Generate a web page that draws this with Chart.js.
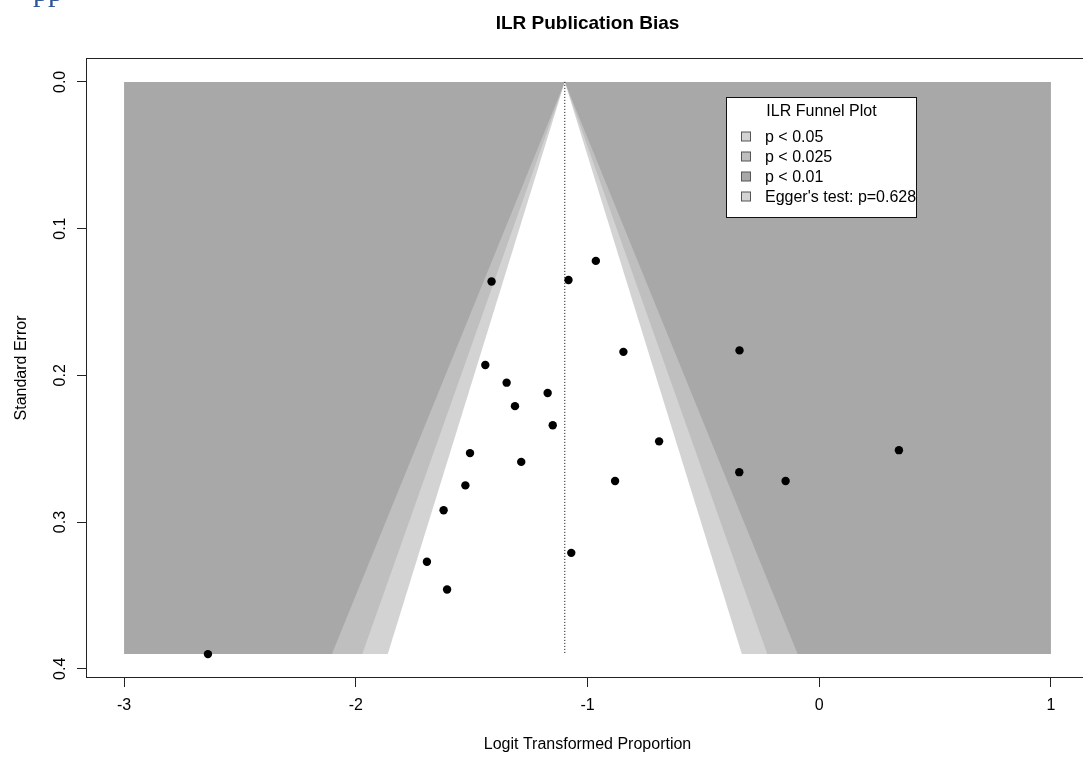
<!DOCTYPE html>
<html>
<head>
<meta charset="utf-8">
<title>ILR Publication Bias</title>
<script src="https://cdn.jsdelivr.net/npm/chart.js@4.4.0/dist/chart.umd.min.js"></script>
<style>
  html, body { margin: 0; padding: 0; background: #fff; overflow: hidden; }
  canvas { display: block; }
</style>
</head>
<body>
<canvas id="funnelChart" width="1100" height="758"></canvas>
<script>
// study estimates (logit proportion) and their standard errors
const logitProp = [-0.964, -1.082, -1.414, -0.845, -0.344, -1.441, -1.349, -1.172,
                   -1.313, -1.150, -0.691, 0.344, -1.507, -1.286, -0.345, -0.145,
                   -0.881, -1.527, -1.621, -1.070, -1.693, -1.606, -2.638];
const stdErr = [0.122, 0.135, 0.136, 0.184, 0.183, 0.193, 0.205, 0.212,
                0.221, 0.234, 0.245, 0.251, 0.253, 0.259, 0.266, 0.272,
                0.272, 0.275, 0.292, 0.321, 0.327, 0.346, 0.390];

// pooled estimate and contour edges at the widest SE
const pooledEstimate = -1.098;
const maxSE = 0.39;
const contourLabels = ["p < 0.05", "p < 0.025", "p < 0.01"];
const contourLeft = [-1.862, -1.972, -2.103];
const contourRight = [-0.334, -0.224, -0.093];
const panelRange = [-3, 1];

const xTicks = [-3, -2, -1, 0, 1];
const yTicks = [0, 0.1, 0.2, 0.3, 0.4];
const legendTitle = "ILR Funnel Plot";
const eggerLabel = "Egger's test: p=0.628";

const shadeLight = "#d3d3d3", shadeMid = "#bfbfbf", shadeDark = "#a8a8a8";
const bandFill = ["#ffffff", shadeLight, shadeMid];
const swatches = [shadeLight, shadeMid, shadeDark, shadeLight];

Chart.defaults.font.family = '"Liberation Sans", Arial, sans-serif';
Chart.defaults.color = "#000";

const points = logitProp.map((x, i) => ({ x: x, y: stdErr[i] }));

// one triangle per contour, widest first so the narrower ones sit on top
const funnelSets = contourLeft.map((lx, i) => ({
    data: [{ x: pooledEstimate, y: 0 }, { x: contourRight[i], y: maxSE }, { x: lx, y: maxSE }],
    showLine: true,
    fill: "shape",
    backgroundColor: bandFill[i],
    borderWidth: 0,
    pointRadius: 0
}));

const panelSet = {
    data: [
        { x: panelRange[0], y: 0 }, { x: panelRange[1], y: 0 },
        { x: panelRange[1], y: maxSE }, { x: panelRange[0], y: maxSE }
    ],
    showLine: true,
    fill: "shape",
    backgroundColor: shadeDark,
    borderWidth: 0,
    pointRadius: 0
};

const centerLine = {
    data: [{ x: pooledEstimate, y: 0 }, { x: pooledEstimate, y: maxSE }],
    showLine: true,
    fill: false,
    borderColor: "#000",
    borderWidth: 1,
    borderDash: [1, 2],
    pointRadius: 0
};

const studySet = {
    data: points,
    pointRadius: 4.2,
    pointBackgroundColor: "#000",
    pointBorderWidth: 0
};

// box around the plot region
const framePlugin = {
    id: "frame",
    afterDatasetsDraw(chart) {
        const { ctx, chartArea: a } = chart;
        ctx.save();
        ctx.strokeStyle = "#222";
        ctx.lineWidth = 1;
        ctx.strokeRect(Math.round(a.left) - 0.5, Math.round(a.top) - 0.5,
            Math.round(a.right - a.left) + 1, Math.round(a.bottom - a.top) + 1);
        ctx.restore();
    }
};

const legendPlugin = {
    id: "boxLegend",
    afterDraw(chart) {
        const ctx = chart.ctx;
        const x = 726.5, y = 97.5, w = 190, h = 120;
        ctx.save();
        ctx.fillStyle = "#fff";
        ctx.fillRect(x, y, w, h);
        ctx.strokeStyle = "#111";
        ctx.lineWidth = 1;
        ctx.strokeRect(x, y, w, h);

        ctx.font = '16px "Liberation Sans", Arial, sans-serif';
        ctx.textBaseline = "middle";
        ctx.fillStyle = "#000";
        ctx.textAlign = "center";
        ctx.fillText(legendTitle, x + w / 2, y + 14.5);

        ctx.textAlign = "left";
        const labels = contourLabels.concat([eggerLabel]);
        labels.forEach((t, i) => {
            const cy = y + 39 + i * 20;
            ctx.fillStyle = swatches[i];
            ctx.fillRect(741.5, cy - 4.5, 9, 9);
            ctx.strokeStyle = "#555";
            ctx.strokeRect(741.5, cy - 4.5, 9, 9);
            ctx.fillStyle = "#000";
            ctx.fillText(t, 765, cy + 1);
        });

        // heading fragment above the figure
        ctx.font = '30px "Liberation Serif", "Times New Roman", serif';
        ctx.fillStyle = "#2f5597";
        ctx.textBaseline = "alphabetic";
        ctx.fillText("pp", 33, 0.5);
        ctx.restore();
    }
};

const ctx = document.getElementById("funnelChart").getContext("2d");

new Chart(ctx, {
    type: "scatter",
    data: {
        datasets: [studySet, centerLine].concat(funnelSets, [panelSet])
    },
    options: {
        responsive: false,
        animation: false,
        events: [],
        layout: { padding: { left: 0, top: 0, right: 12, bottom: 0 } },
        plugins: {
            legend: { display: false },
            tooltip: { enabled: false },
            title: {
                display: true,
                text: "ILR Publication Bias",
                fullSize: false,
                color: "#000",
                font: { size: 19, weight: "bold" },
                padding: { top: 12, bottom: 24.2 }
            }
        },
        scales: {
            x: {
                type: "linear",
                min: -3.16,
                max: 1.16,
                afterBuildTicks: s => { s.ticks = xTicks.map(v => ({ value: v })); },
                afterFit: s => { s.height = 81; },
                border: { display: false },
                grid: { drawOnChartArea: false, drawTicks: true, tickLength: 10, tickColor: "#222" },
                ticks: {
                    autoSkip: false,
                    maxRotation: 0,
                    padding: 9,
                    font: { size: 16 },
                    color: "#000",
                    callback: v => String(v)
                },
                title: {
                    display: true,
                    text: "Logit Transformed Proportion",
                    color: "#000",
                    font: { size: 16 },
                    padding: { top: 0, bottom: 4 }
                }
            },
            y: {
                type: "linear",
                reverse: true,
                min: -0.0156,
                max: 0.4056,
                afterBuildTicks: s => { s.ticks = yTicks.map(v => ({ value: v })); },
                afterFit: s => { s.width = 87; },
                border: { display: false },
                grid: { drawOnChartArea: false, drawTicks: true, tickLength: 10, tickColor: "#222" },
                ticks: {
                    autoSkip: false,
                    minRotation: 90,
                    maxRotation: 90,
                    crossAlign: "center",
                    padding: 5,
                    font: { size: 16 },
                    color: "#000",
                    callback: v => v.toFixed(1)
                },
                title: {
                    display: true,
                    text: "Standard Error",
                    color: "#000",
                    font: { size: 16 },
                    padding: { top: 12, bottom: 0 }
                }
            }
        }
    },
    plugins: [framePlugin, legendPlugin]
});
</script>
</body>
</html>
